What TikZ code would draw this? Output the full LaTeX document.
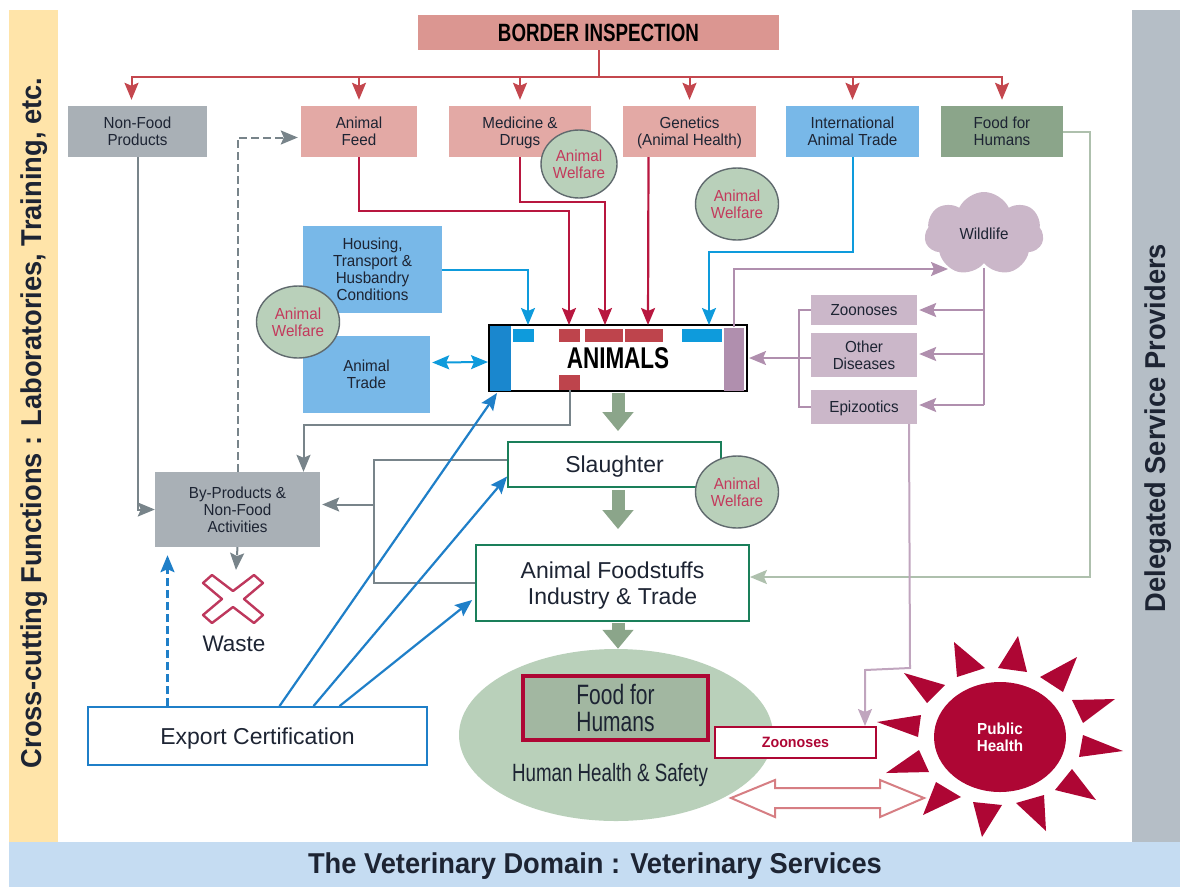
\documentclass[tikz,border=0pt]{standalone}
\usepackage{fontspec}
\setmainfont[FakeStretch=0.95]{Liberation Sans}
\newfontfamily\condensedfont[FakeStretch=0.75]{Liberation Sans}
\newfontfamily\plainfont{Liberation Sans}
\usepackage{xcolor}
\usetikzlibrary{shapes.geometric, shapes.symbols, arrows.meta}
\definecolor{sidecream}{HTML}{FFE4A9}
\definecolor{sidegray}{HTML}{B5BEC6}
\definecolor{sideblue}{HTML}{C5DCF2}
\definecolor{borderred}{HTML}{DB9691}
\definecolor{palered}{HTML}{E3A9A5}
\definecolor{boxgray}{HTML}{A9B0B6}
\definecolor{boxblue}{HTML}{78B8E8}
\definecolor{boxgreen}{HTML}{8BA58A}
\definecolor{palegreen}{HTML}{B9D0BA}
\definecolor{boxmauve}{HTML}{CBB7C9}
\definecolor{linemauve}{HTML}{B08FAE}
\definecolor{linered}{HTML}{B8173F}
\definecolor{treered}{HTML}{C4474E}
\definecolor{barred}{HTML}{BE444C}
\definecolor{linegray}{HTML}{78848A}
\definecolor{lineblue}{HTML}{0E9BDC}
\definecolor{exportblue}{HTML}{1F7FC8}
\definecolor{framegreen}{HTML}{1A7F5A}
\definecolor{healthred}{HTML}{AE0634}
\definecolor{inkdark}{HTML}{1D2433}
\tikzset{
  box/.style={rectangle, inner sep=0pt, text=inkdark, align=center, text depth=0pt, font=\fontsize{16}{17}\selectfont},
  framed/.style={box, fill=white, line width=1.8pt, font=\fontsize{23}{26}\plainfont},
  welfare/.style={ellipse, draw=linegray!80!black, line width=1.4pt, fill=palegreen, inner sep=0pt, align=center, text=linered!85!white, font=\fontsize{16}{17}\selectfont},
  bar/.style={rectangle, inner sep=0pt},
  tip/.style={-{Stealth[length=17pt, width=14pt, inset=3pt]}},
  treeline/.style={tip, color=treered, line width=2pt},
  redline/.style={tip, color=linered, line width=2.2pt},
  blueline/.style={tip, color=lineblue, line width=2pt},
  greyline/.style={tip, color=linegray, line width=2pt},
  mauveline/.style={tip, color=linemauve, line width=2pt},
  exportline/.style={tip, color=exportblue, line width=2.2pt},
  dashline/.style={dash pattern=on 8pt off 4pt},
  bigarrow/.style={-{Triangle[length=19pt, width=30pt]}, color=boxgreen, line width=13pt}
}
\begin{document}
\begin{tikzpicture}[x=1pt, y=-1pt]
\useasboundingbox (0, 0) rectangle (1180, 887);
\fill [sidecream] (9, 10) rectangle (58, 842);
\fill [sidegray] (1132, 10) rectangle (1180, 842);
\fill [sideblue] (9, 842) rectangle (1180, 887);
\node (crosscutting) [rotate=90, text=inkdark, font=\fontsize{28.7}{32}\selectfont\bfseries] at (34, 423) {Cross-cutting Functions : Laboratories, Training, etc.};
\node (delegated) [rotate=90, text=inkdark, font=\fontsize{28.7}{32}\selectfont\bfseries] at (1158, 428) {Delegated Service Providers};
\node (domain) [text=inkdark, font=\fontsize{28.7}{32}\selectfont\bfseries] at (595, 866) {The Veterinary Domain : Veterinary Services};

\node (border) [box, fill=borderred, minimum width=361pt, minimum height=35pt, text=black, font=\fontsize{25}{28}\condensedfont\bfseries] at (598.5, 32.5) {BORDER INSPECTION};
\node (nonfood) [box, fill=boxgray, minimum width=139pt, minimum height=51pt] at (137.5, 131.5) {Non-Food\\Products};
\node (feed) [box, fill=palered, minimum width=116pt, minimum height=51pt] at (359, 131.5) {Animal\\Feed};
\node (medicine) [box, fill=palered, minimum width=142pt, minimum height=51pt] at (520, 131.5) {Medicine \&\\Drugs};
\node (genetics) [box, fill=palered, minimum width=133pt, minimum height=51pt] at (689.5, 131.5) {Genetics\\(Animal Health)};
\node (intltrade) [box, fill=boxblue, minimum width=133pt, minimum height=51pt] at (852.5, 131.5) {International\\Animal Trade};
\node (foodhumans) [box, fill=boxgreen, minimum width=122pt, minimum height=51pt] at (1002, 131.5) {Food for\\Humans};
\node (housing) [box, fill=boxblue, minimum width=139pt, minimum height=87pt] at (372.5, 269.5) {Housing,\\Transport \&\\Husbandry\\Conditions};
\node (animaltrade) [box, fill=boxblue, minimum width=127pt, minimum height=77pt] at (366.5, 374.5) {Animal\\Trade};
\node (wildlife) [cloud, cloud puffs=7, cloud puff arc=130, aspect=1.4, fill=boxmauve, inner sep=0pt, minimum width=119pt, minimum height=84pt, text=inkdark, font=\fontsize{16}{17}\selectfont] at (984, 234) {Wildlife};
\node (zoonoses) [box, fill=boxmauve, minimum width=106pt, minimum height=30pt] at (864, 310) {Zoonoses};
\node (diseases) [box, fill=boxmauve, minimum width=106pt, minimum height=44pt] at (864, 355) {Other\\Diseases};
\node (epizootics) [box, fill=boxmauve, minimum width=106pt, minimum height=34pt] at (864, 407) {Epizootics};

\node (animals) [box, draw=black, fill=white, line width=2pt, minimum width=258pt, minimum height=66pt, text=black, font=\fontsize{30}{32}\condensedfont\bfseries] at (618, 358) {ANIMALS};
\node (barleft) [bar, fill=exportblue!70!lineblue, minimum width=21pt, minimum height=65pt] at (500.5, 358) {};
\node (barhousing) [bar, fill=lineblue, minimum width=21pt, minimum height=13pt] at (523.5, 335) {};
\node (barfeed) [bar, fill=barred, minimum width=21pt, minimum height=13pt] at (569.5, 335) {};
\node (barmedicine) [bar, fill=barred, minimum width=38pt, minimum height=13pt] at (604, 335) {};
\node (bargenetics) [bar, fill=barred, minimum width=38pt, minimum height=13pt] at (644, 335) {};
\node (bartrade) [bar, fill=lineblue, minimum width=40pt, minimum height=13pt] at (702, 335) {};
\node (barwild) [bar, fill=linemauve, minimum width=20pt, minimum height=63pt] at (734, 359) {};
\node (barout) [bar, fill=barred, minimum width=21pt, minimum height=15pt] at (569.5, 382.5) {};

\node (slaughter) [framed, draw=framegreen, minimum width=213pt, minimum height=45pt] at (614.5, 464.5) {Slaughter};
\node (foodstuffs) [framed, draw=framegreen, minimum width=273pt, minimum height=76pt] at (612.5, 583) {Animal Foodstuffs\\Industry \& Trade};
\node (byproducts) [box, fill=boxgray, minimum width=165pt, minimum height=75pt] at (237.5, 509.5) {By-Products \&\\Non-Food\\Activities};
\node (export) [framed, draw=exportblue, minimum width=339pt, minimum height=58pt] at (257.5, 736) {Export Certification};
\node (waste) [text=inkdark, font=\fontsize{22.5}{26}\plainfont] at (234, 644) {Waste};
\draw [healthred!80!white, line width=2.4pt, line join=round, fill=white] (233, 591) -- (254, 575) -- (263, 583) -- (244, 599) -- (263, 615) -- (254, 623) -- (233, 607) -- (212, 623) -- (203, 615) -- (222, 599) -- (203, 583) -- (212, 575) -- cycle;
\coordinate (wastetop) at (236, 570);

\node (safety) [ellipse, fill=palegreen, inner sep=0pt, minimum width=314pt, minimum height=172pt] at (616, 735) {};
\node (foodbox) [box, draw=healthred, fill=boxgreen!80!white, line width=3.5pt, minimum width=185pt, minimum height=64pt, font=\fontsize{28}{27}\condensedfont] at (615.5, 708) {Food for\\Humans};
\node (safetylabel) [text=inkdark, font=\fontsize{25}{28}\condensedfont] at (610, 775) {Human Health \& Safety};
\node (zoonosestwo) [box, draw=healthred, fill=white, line width=2pt, minimum width=161pt, minimum height=31pt, text=healthred, font=\fontsize{15}{17}\selectfont\bfseries] at (795.5, 742.5) {Zoonoses};
\node (health) [ellipse, fill=healthred, inner sep=0pt, minimum width=132pt, minimum height=110pt, text=white, align=center, font=\fontsize{16}{17}\selectfont\bfseries] at (1000, 737) {Public\\Health};
\foreach \tx/\ty/\ax/\ay/\bx/\by in {1018/636/998/668/1027/672, 954/642/957/677/985/668, 1077/657/1040/677/1063/692, 1115/699/1072/700/1083/723, 1123/751/1083/735/1079/757, 1096/800/1072/769/1055/790, 1046/831/1044/795/1016/803, 982/837/973/802/1002/805, 923/815/936/782/961/797, 886/773/919/750/929/772, 877/722/921/715/918/737, 904/673/945/685/927/703}
  \fill [healthred] (\tx, \ty) -- (\ax, \ay) -- (\bx, \by) -- cycle;
\draw [treered!70!white, line width=2pt, fill=white] (731, 798) -- (775, 780) -- (775, 788) -- (880, 788) -- (880, 780) -- (924, 798) -- (880, 817) -- (880, 808) -- (775, 808) -- (775, 817) -- cycle;

\coordinate (infeed) at (569, 325);
\coordinate (inmedicine) at (605, 325);
\coordinate (ingenetics) at (648, 325);
\coordinate (inhousing) at (528, 325);
\coordinate (intrade) at (709, 325);
\coordinate (trunk) at (984, 268);
\coordinate (splitone) at (984, 354);
\coordinate (splittwo) at (984, 405);
\coordinate (joinleft) at (374, 504.5);
\draw [color=treered, line width=2pt] (border.south) -- ++(0, 27) coordinate (topline);
\draw [treeline, shorten >=6pt] (topline) -| ([xshift=-6pt]nonfood.north);
\draw [treeline, shorten >=6pt] (topline) -| (feed.north);
\draw [treeline, shorten >=6pt] (topline) -| (medicine.north);
\draw [treeline, shorten >=6pt] (topline) -| (genetics.north);
\draw [treeline, shorten >=6pt] (topline) -| (intltrade.north);
\draw [treeline, shorten >=6pt] (topline) -| (foodhumans.north);
\draw [redline] (feed.south) -- ++(0, 54) -| (infeed);
\draw [redline] (medicine.south) -- ++(0, 45) -| (inmedicine);
\draw [redline] ([xshift=-41pt]genetics.south) -- (ingenetics);
\draw [blueline] (intltrade.south) -- ++(0, 95) -| (intrade);
\draw [blueline] (housing.east) -| (inhousing);
\draw [blueline, {Stealth[length=17pt, width=14pt, inset=3pt]}-{Stealth[length=17pt, width=14pt, inset=3pt]}] ([xshift=2pt, yshift=12pt]animaltrade.east) -- ([yshift=-4pt]animals.west);
\draw [color=boxgreen!70!white, line width=2pt, tip] (foodhumans.east) -- ++(27, 0) |- ([yshift=6pt]foodstuffs.east);
\draw [mauveline] (barwild.north) |- (948, 269);
\draw [mauveline] (trunk) |- ([xshift=2pt]zoonoses.east);
\draw [mauveline] (splitone) -- ([xshift=2pt, yshift=1pt]diseases.east);
\draw [color=linemauve, line width=2pt] (trunk) -- (splittwo);
\draw [mauveline] (splittwo) -- ([xshift=2pt, yshift=2pt]epizootics.east);
\draw [color=linemauve, line width=2pt] (zoonoses.west) -- ++(-12, 0) |- (epizootics.west);
\draw [mauveline] ([yshift=-3pt]diseases.west) -- ([xshift=1pt]animals.east);
\draw [greyline] (nonfood.south) |- (byproducts.west);
\draw [greyline, dashline] (byproducts.north) |- ([xshift=-3pt, yshift=-6pt]feed.west);
\draw [greyline, dashline] (byproducts.south) -- (wastetop);
\draw [greyline] (barout.south) -- ++(0, 35) -| ([xshift=66pt]byproducts.north);
\draw [color=linegray, line width=2pt] ([yshift=5pt]slaughter.west) -| (joinleft) |- (foodstuffs.west);
\draw [greyline] (joinleft) -- ([xshift=2pt, yshift=5pt]byproducts.east);
\draw [exportline, dashline] ([xshift=-90pt]export.north) -- ([xshift=-70pt, yshift=-8pt]byproducts.south);
\draw [exportline] ([xshift=22pt]export.north) -- (497, 393);
\draw [exportline] ([xshift=56pt]export.north) -- ([yshift=-12pt]slaughter.west);
\draw [exportline] ([xshift=82pt]export.north) -- ([xshift=-3pt, yshift=-17pt]foodstuffs.west);
\draw [color=linemauve!80!white, line width=2pt, tip] ([xshift=45pt]epizootics.south) -- (910, 668) -- (865, 670) -- (865, 726);

\draw [bigarrow, shorten <=1pt, shorten >=10pt] (animals.south) -- (animals.south |- slaughter.north);
\draw [bigarrow, shorten <=2pt, shorten >=15pt] (slaughter.south -| animals.south) -- (animals.south |- foodstuffs.north);
\draw [bigarrow, shorten <=1pt] (foodstuffs.south -| animals.south) -- (animals.south |- safety.north);

\node (welfareone) [welfare, minimum width=76pt, minimum height=68pt] at (579, 164) {Animal\\Welfare};
\node (welfaretwo) [welfare, minimum width=83pt, minimum height=72pt] at (737, 204) {Animal\\Welfare};
\node (welfarethree) [welfare, minimum width=83pt, minimum height=72pt] at (298, 322) {Animal\\Welfare};
\node (welfarefour) [welfare, minimum width=83pt, minimum height=72pt] at (737, 492) {Animal\\Welfare};
\end{tikzpicture}
\end{document}
